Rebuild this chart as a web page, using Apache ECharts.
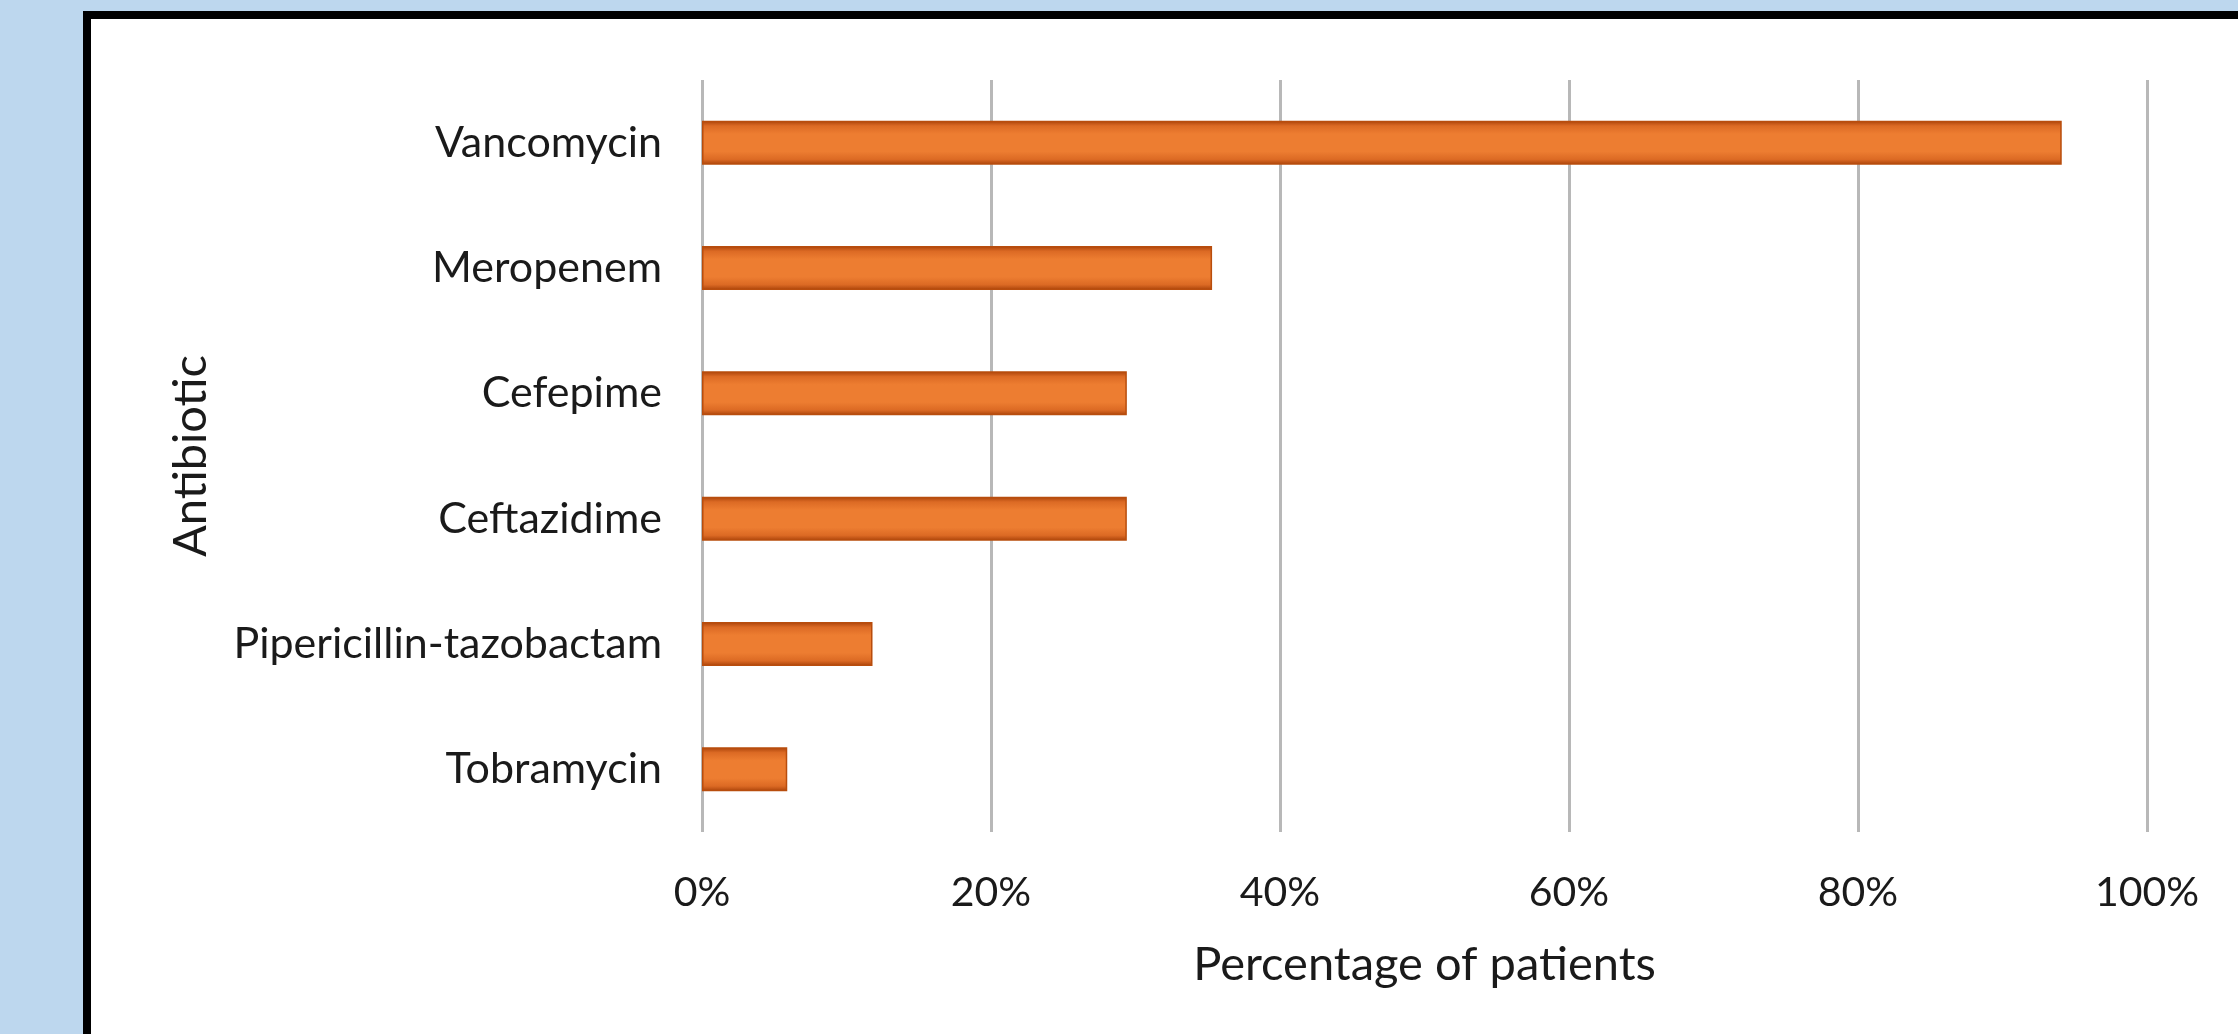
<!DOCTYPE html>
<html lang="en">
    <head>
        <meta charset="UTF-8">
        <title>Antibiotic use</title>
        <script src="https://cdn.jsdelivr.net/npm/echarts@6/dist/echarts.min.js"></script>
        <style>
            body { margin: 0; background: #bdd7ee; }
            #frame {
                position: absolute; left: 83px; top: 11px;
                width: 2200px; height: 1100px;
                background: #fff;
                border-left: 8px solid #000; border-top: 8px solid #000;
            }
            #main { position: absolute; left: 0; top: 0; width: 2238px; height: 1034px; }
        </style>
    </head>
    <body>
        <div id="frame"></div>
        <div id="main"></div>
        <script>
            // data (share of 17 patients)
            var antibiotics = ['Vancomycin', 'Meropenem', 'Cefepime', 'Ceftazidime', 'Pipericillin-tazobactam', 'Tobramycin'];
            var percent = [94.1, 35.3, 29.4, 29.4, 11.8, 5.9];
            var xTicks = [0, 20, 40, 60, 80, 100];

            var myChart = echarts.init(document.getElementById('main'));

            var font = 'Lato, "Open Sans", sans-serif';

            var option = {
                backgroundColor: 'transparent',
                textStyle: { fontFamily: font },
                grid: { left: 702, right: 91, top: 80, bottom: 202 },
                xAxis: {
                    type: 'value',
                    min: xTicks[0],
                    max: xTicks[xTicks.length - 1],
                    interval: xTicks[1] - xTicks[0],
                    name: 'Percentage of patients',
                    nameLocation: 'middle',
                    nameGap: 109,
                    nameTextStyle: { fontFamily: font, fontSize: 47, color: '#1a1a1a' },
                    axisLine: { show: false },
                    axisTick: { show: false },
                    axisLabel: {
                        formatter: '{value}%',
                        fontFamily: font, fontSize: 41, color: '#1a1a1a', margin: 40
                    },
                    splitLine: { lineStyle: { color: '#b8b8b8', width: 3 } }
                },
                yAxis: {
                    type: 'category',
                    inverse: true,
                    data: antibiotics,
                    name: 'Antibiotic',
                    nameLocation: 'middle',
                    nameGap: 488,
                    nameTextStyle: { fontFamily: font, fontSize: 47, color: '#1a1a1a' },
                    axisLine: { show: false },
                    axisTick: { show: false },
                    axisLabel: { fontFamily: font, fontSize: 43, color: '#1a1a1a', margin: 40 }
                },
                series: [{
                    type: 'bar',
                    data: percent,
                    barWidth: 44,
                    itemStyle: {
                        color: new echarts.graphic.LinearGradient(0, 0, 0, 1, [
                            { offset: 0, color: '#a9420a' },
                            { offset: 0.12, color: '#dc6a24' },
                            { offset: 0.3, color: '#ed7d31' },
                            { offset: 0.7, color: '#ed7d31' },
                            { offset: 0.88, color: '#dc6a24' },
                            { offset: 1, color: '#a9420a' }
                        ]),
                        borderColor: '#b84d0d',
                        borderWidth: 1.5
                    }
                }]
            };

            myChart.setOption(option);
        </script>
    </body>
</html>
